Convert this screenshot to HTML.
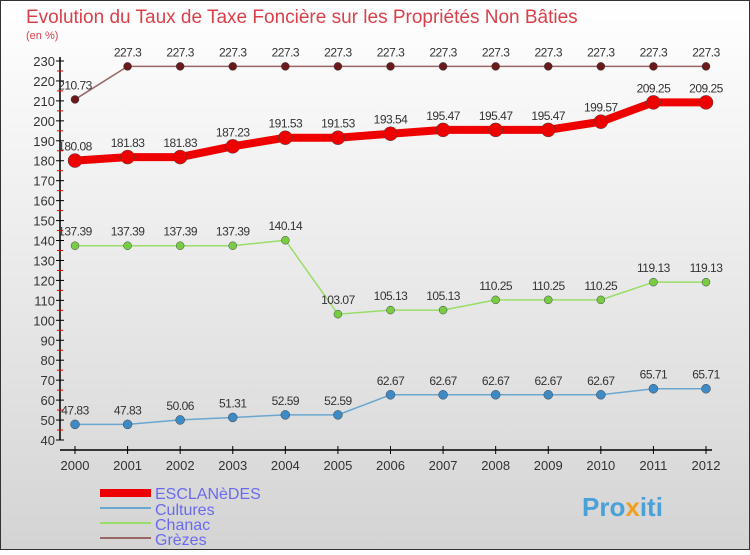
<!DOCTYPE html>
<html><head><meta charset="utf-8"><style>
body{margin:0;width:750px;height:550px;overflow:hidden;font-family:"Liberation Sans","DejaVu Sans",sans-serif}
</style></head><body>
<svg id="c" width="750" height="550" xmlns="http://www.w3.org/2000/svg">
<defs><linearGradient id="bg" x1="0" y1="0" x2="0" y2="1"><stop offset="0" stop-color="#ffffff"/><stop offset="1" stop-color="#d4d4d4"/></linearGradient></defs>
<rect x="0.5" y="0.5" width="749" height="549" fill="url(#bg)" stroke="#333"/>
<text x="26" y="23" font-size="19" fill="#d9404a">Evolution du Taux de Taxe Foncière sur les Propriétés Non Bâties</text>
<text x="26" y="39" font-size="11" fill="#d9404a">(en %)</text>
<g id="axes"></g><g id="series"></g>
<g>
<rect x="100" y="489" width="51" height="8" fill="#ee0000"/>
<text x="155" y="499" font-size="16" fill="#6a6aee">ESCLANèDES</text>
<line x1="100" y1="508" x2="151" y2="508" stroke="#6aa7d0" stroke-width="2"/>
<text x="155" y="515" font-size="16" fill="#6a6aee">Cultures</text>
<line x1="100" y1="523" x2="151" y2="523" stroke="#99dd66" stroke-width="2"/>
<text x="155" y="530" font-size="16" fill="#6a6aee">Chanac</text>
<line x1="100" y1="538" x2="151" y2="538" stroke="#996666" stroke-width="2"/>
<text x="155" y="545" font-size="16" fill="#6a6aee">Grèzes</text>
</g>
<text x="582" y="516" font-size="26" font-weight="bold" fill="#4aa0d8">Pro<tspan fill="#f0a020">x</tspan>iti</text>
</svg>
<script>
const years=[2000,2001,2002,2003,2004,2005,2006,2007,2008,2009,2010,2011,2012];
const esclanedes=[180.08,181.83,181.83,187.23,191.53,191.53,193.54,195.47,195.47,195.47,199.57,209.25,209.25];
const cultures=[47.83,47.83,50.06,51.31,52.59,52.59,62.67,62.67,62.67,62.67,62.67,65.71,65.71];
const chanac=[137.39,137.39,137.39,137.39,140.14,103.07,105.13,105.13,110.25,110.25,110.25,119.13,119.13];
const grezes=[210.73,227.3,227.3,227.3,227.3,227.3,227.3,227.3,227.3,227.3,227.3,227.3,227.3];
const yTicks=[40,50,60,70,80,90,100,110,120,130,140,150,160,170,180,190,200,210,220,230];
const NS="http://www.w3.org/2000/svg";
const X=i=>75+i*(706-75)/(years.length-1);
const Y=v=>440-(v-40)*(440-61)/190;
function mk(t,a,p){const e=document.createElementNS(NS,t);for(const k in a)e.setAttribute(k,a[k]);p.appendChild(e);return e;}
const ax=document.getElementById('axes');
mk('line',{x1:60,y1:Y(232),x2:60,y2:Y(40),stroke:'#000','stroke-width':1.5},ax);
mk('line',{x1:60,y1:450,x2:712,y2:450,stroke:'#000','stroke-width':1.5},ax);
yTicks.forEach(v=>{
 mk('line',{x1:56,y1:Y(v),x2:64,y2:Y(v),stroke:'#000'},ax);
 if(v<230)mk('line',{x1:57,y1:Y(v+5),x2:63,y2:Y(v+5),stroke:'#e00'},ax);
 const t=mk('text',{x:55,y:Y(v)+5,'font-size':13,'text-anchor':'end',fill:'#333'},ax);t.textContent=v;
 
 
});
years.forEach((y,i)=>{
 mk('line',{x1:X(i),y1:446,x2:X(i),y2:454,stroke:'#000'},ax);
 const t=mk('text',{x:X(i),y:470,'font-size':13,'text-anchor':'middle',fill:'#333'},ax);t.textContent=y;
 
 
});
const sg=document.getElementById('series');
function series(name,vals,color,w,r,dot){
 const g=mk('g',{},sg);
 
 
 mk('polyline',{points:vals.map((v,i)=>X(i)+','+Y(v)).join(' '),fill:'none',stroke:color,'stroke-width':w},g);
 vals.forEach((v,i)=>{
  const c=mk('circle',{cx:X(i),cy:Y(v),r:r,fill:dot,stroke:'#444','stroke-width':0.5},g);
  
  
  const t=mk('text',{x:X(i),y:Y(v)-10,'font-size':12,'text-anchor':'middle',fill:'#333','letter-spacing':'-0.5'},g);
  t.textContent=v;
  
  
 });
}
series('grezes',grezes,'#996666',1.5,4,'#6a1a1a');
series('chanac',chanac,'#99dd66',1.5,4,'#77cc44');
series('cultures',cultures,'#6aa7d0',1.5,4.5,'#3d8ac4');
series('esclanedes',esclanedes,'#ee0000',8,7,'#ee0000');
</script>
</body></html>
